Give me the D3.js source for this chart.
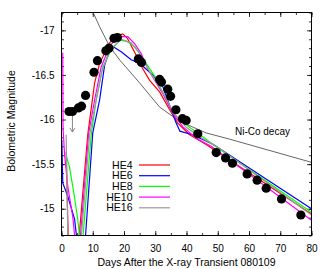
<!DOCTYPE html>
<html>
<head>
<meta charset="utf-8">
<script src="https://cdn.jsdelivr.net/npm/d3@7"></script>
<style>
  body { margin: 0; background: #fff; }
  svg text { font-family: "Liberation Sans", Arial, sans-serif; fill: #000; }
</style>
</head>
<body>
<svg id="chart"></svg>
<script>
// observed bolometric light curve (days, magnitude)
var obsDay = [2.4, 3.5, 5.4, 6.4, 7.7, 10.4, 11.5, 14.2, 15.2, 16.8, 17.9, 24.6, 25.6,
  31.4, 32.0, 34.0, 34.9, 36.6, 38.7, 39.9, 43.6, 49.5, 52.5, 54.7, 59.4, 62.6, 65.5, 70.4, 76.6];
var obsMag = [-16.09, -16.09, -16.13, -16.15, -16.27, -16.53, -16.66, -16.77, -16.80, -16.91, -16.92, -16.68, -16.64,
  -16.45, -16.42, -16.34, -16.26, -16.11, -16.01, -15.99, -15.84, -15.63, -15.57, -15.51, -15.39, -15.32, -15.23, -15.11, -14.93];

// upper limit arrow
var limitDay = 3.5, limitFrom = -16.09, limitTo = -15.86;

// model curves [day, mag]
var he4 = [[1.5, -15.64], [2.4, -14.3], [4.7, -14.3], [8.4, -15.83], [10.6, -16.41], [12.2, -16.63], [15.4, -16.86],
  [17.6, -16.94], [19.6, -16.96], [21.1, -16.91], [23.9, -16.72], [25.5, -16.60], [28.2, -16.44], [31.4, -16.31],
  [34.6, -16.11], [37.2, -15.96], [41.0, -15.83], [46.3, -15.72], [49.3, -15.65], [80, -14.94]];
var he6 = [[0.1, -15.77], [0.4, -15.29], [2.0, -15.14], [4.2, -14.88], [5.1, -14.6], [7.0, -14.6], [7.7, -14.70],
  [10.0, -15.85], [12.2, -16.22], [13.8, -16.61], [15.9, -16.83], [19.1, -16.76], [22.3, -16.67], [25.0, -16.63],
  [29.2, -16.50], [32.4, -16.37], [35.1, -16.11], [36.7, -15.96], [37.9, -15.87], [41.9, -15.83], [48.6, -15.72], [80, -15.00]];
var he8 = [[1.45, -15.60], [2.56, -15.47], [4.16, -15.13], [5.2, -14.88], [5.76, -14.70], [6.2, -14.5], [6.5, -14.5],
  [6.9, -14.70], [9.5, -15.83], [11.1, -16.22], [13.2, -16.59], [15.9, -16.78], [18.6, -16.89], [20.7, -16.88],
  [23.4, -16.82], [26.0, -16.69], [28.2, -16.57], [30.3, -16.46], [32.0, -16.33], [35.6, -16.07], [39.9, -15.94],
  [45.1, -15.81], [50.0, -15.68], [80, -14.96]];
var he10 = [[0.4, -16.75], [0.5, -15.9], [1.0, -15.60], [2.0, -15.25], [3.6, -14.91], [4.2, -14.70], [4.6, -14.5],
  [5.8, -14.5], [6.1, -14.71], [8.7, -15.85], [10.6, -16.22], [12.7, -16.59], [15.4, -16.82], [18.0, -16.93],
  [21.2, -16.93], [23.4, -16.85], [25.5, -16.74], [27.6, -16.57], [32.4, -16.29], [35.6, -16.07], [38.8, -15.92],
  [43.1, -15.79], [47.9, -15.70], [80, -14.87]];
var he16 = [[1.5, -15.83], [2.1, -14.5], [5.8, -14.5], [6.4, -14.71], [9.0, -15.83], [11.0, -16.2], [13.0, -16.55],
  [15.5, -16.78], [19.0, -16.90], [22.3, -16.86], [25.0, -16.74], [28.0, -16.55], [32.0, -16.33], [36.0, -16.07],
  [40.0, -15.91], [45.0, -15.79], [50.0, -15.69], [80, -14.93]];
var niCo = [[9.0, -17.30], [10.0, -17.21], [12.2, -17.04], [15.4, -16.82], [18.8, -16.66], [22.8, -16.50], [25.0, -16.41],
  [31.4, -16.14], [37.8, -15.98], [46.3, -15.85], [53.8, -15.78], [80, -15.52]];

var modelNames = ["HE4", "HE6", "HE8", "HE10", "HE16"];
var modelColors = ["#ff0000", "#0000ff", "#00ff00", "#ff00ff", "#999999"];
var models = [he4, he6, he8, he10, he16];

var xTicks = [0, 10, 20, 30, 40, 50, 60, 70, 80];
var yTicks = [-17, -16.5, -16, -15.5, -15];

var width = 330, height = 269;
var plotLeft = 61.5, plotRight = 311.5, plotTop = 12.5, plotBottom = 235.5;

var svg = d3.select("#chart").attr("width", width).attr("height", height);

var x = d3.scaleLinear().domain([0, 80]).range([plotLeft, plotRight]);
var y = d3.scaleLinear().domain([-17.2, -14.7]).range([plotTop, plotBottom]);

svg.append("defs").append("clipPath").attr("id", "clip")
  .append("rect")
  .attr("x", plotLeft).attr("y", plotTop)
  .attr("width", plotRight - plotLeft).attr("height", plotBottom - plotTop);

var minorX = d3.range(0, 81, 5);
var minorY = d3.range(-17.2, -14.69, 0.1).map(function (d) { return Math.round(d * 10) / 10; });

function tickAxis(axis, pos, values, size, labels) {
  var g = svg.append("g").attr("transform", pos)
    .call(axis.tickValues(values).tickSize(size).tickPadding(labels ? 7 : 0)
      .tickFormat(labels ? function (d) { return d; } : ""));
  g.select(".domain").remove();
  g.selectAll("line").attr("stroke", "#000").attr("stroke-width", 0.8);
  g.selectAll("text").style("font-size", "10px").style("font-family", "Liberation Sans, Arial, sans-serif");
  return g;
}

tickAxis(d3.axisBottom(x), "translate(0," + plotBottom + ")", minorX, -2.5, false);
tickAxis(d3.axisBottom(x), "translate(0," + plotBottom + ")", xTicks, -4.5, true)
  .selectAll("text").attr("dy", "0.9em");
tickAxis(d3.axisTop(x), "translate(0," + plotTop + ")", minorX, -2.5, false);
tickAxis(d3.axisTop(x), "translate(0," + plotTop + ")", xTicks, -4.5, false);
tickAxis(d3.axisLeft(y), "translate(" + plotLeft + ",0)", minorY, -2.5, false);
tickAxis(d3.axisLeft(y), "translate(" + plotLeft + ",0)", yTicks, -4.5, true);
tickAxis(d3.axisRight(y), "translate(" + plotRight + ",0)", minorY, -2.5, false);
tickAxis(d3.axisRight(y), "translate(" + plotRight + ",0)", yTicks, -4.5, false);

var plot = svg.append("g").attr("clip-path", "url(#clip)");

var line = d3.line()
  .x(function (d) { return x(d[0]); })
  .y(function (d) { return y(d[1]); });

// Ni-Co decay
plot.append("path")
  .attr("d", line(niCo))
  .attr("fill", "none")
  .attr("stroke", "#555")
  .attr("stroke-width", 0.9);

// models
models.forEach(function (m, i) {
  plot.append("path")
    .attr("d", line(m))
    .attr("fill", "none")
    .attr("stroke", modelColors[i])
    .attr("stroke-width", 1.2);
});

// upper limit arrow
var ax = x(limitDay), ay0 = y(limitFrom), ay1 = y(limitTo);
plot.append("line")
  .attr("x1", ax).attr("x2", ax).attr("y1", ay0).attr("y2", ay1)
  .attr("stroke", "#888").attr("stroke-width", 1);
plot.append("path")
  .attr("d", "M" + (ax - 2.5) + "," + (ay1 - 4) + "L" + ax + "," + ay1 + "L" + (ax + 2.5) + "," + (ay1 - 4))
  .attr("fill", "none").attr("stroke", "#888").attr("stroke-width", 1);

// observations
plot.selectAll("circle")
  .data(obsDay)
  .enter()
  .append("circle")
  .attr("cx", function (d) { return x(d); })
  .attr("cy", function (d, i) { return y(obsMag[i]); })
  .attr("r", 4.6)
  .attr("fill", "#000");

// frame
svg.append("rect")
  .attr("x", plotLeft).attr("y", plotTop)
  .attr("width", plotRight - plotLeft).attr("height", plotBottom - plotTop)
  .attr("fill", "none").attr("stroke", "#000").attr("stroke-width", 1);

// Ni-Co label
svg.append("text")
  .attr("x", x(55.5)).attr("y", y(-15.83))
  .style("font-size", "10px")
  .text("Ni-Co decay");

// legend
var legend = svg.append("g");
modelNames.forEach(function (name, i) {
  var ly = 165 + i * 10.7;
  legend.append("text")
    .attr("x", 132.5).attr("y", ly)
    .attr("dy", "0.35em")
    .attr("text-anchor", "end")
    .style("font-size", "10.5px")
    .text(name);
  legend.append("line")
    .attr("x1", 139).attr("x2", 170)
    .attr("y1", ly).attr("y2", ly)
    .attr("stroke", modelColors[i])
    .attr("stroke-width", 1.2);
});

// axis titles
svg.append("text")
  .attr("x", (plotLeft + plotRight) / 2).attr("y", 266)
  .attr("text-anchor", "middle")
  .style("font-size", "10.5px")
  .text("Days After the X-ray Transient 080109");

svg.append("text")
  .attr("transform", "translate(15,121) rotate(-90)")
  .attr("text-anchor", "middle")
  .style("font-size", "10.5px")
  .text("Bolometric Magnitude");
</script>
</body>
</html>
